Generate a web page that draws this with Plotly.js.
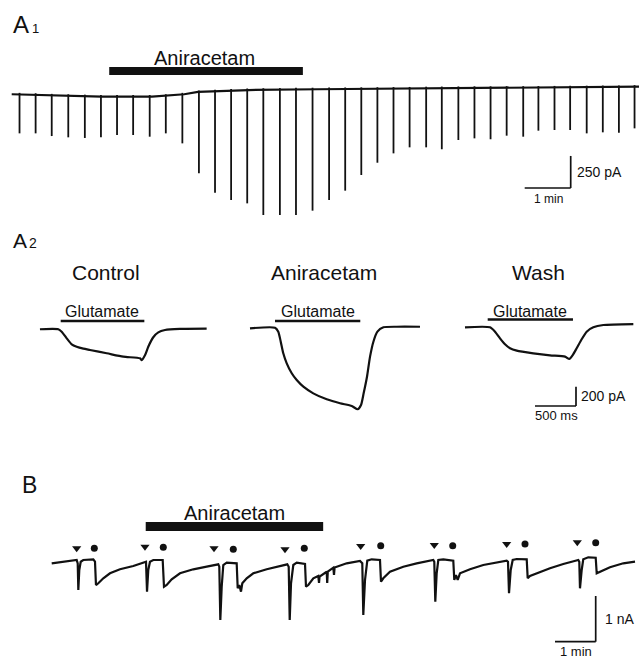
<!DOCTYPE html>
<html><head><meta charset="utf-8">
<script src="https://cdn.plot.ly/plotly-3.0.1.min.js"></script>
<style>html,body{margin:0;padding:0;background:#fff}</style>
</head><body><div id="chart" style="width:639px;height:660px"></div>
<script>
// ---------- DATA ----------
// A1: holding current (pA) vs time (min)
const a1BaseT = [-0.05, 0.4, 1.9, 3.0, 3.3, 3.7, 4.0, 4.4, 5.1, 6.6, 7.7, 9.5, 11.0, 13.6];
const a1BaseI = [-2, -5, -20, -20, -13, -2, 16, 23, 31, 37, 41, 47, 49, 57];
const a1SpikeT = [0.12,0.47,0.82,1.18,1.54,1.89,2.24,2.59,2.95,3.30,3.66,4.02,4.37,4.72,5.07,5.42,5.78,6.13,6.49,6.85,7.20,7.55,7.90,8.25,8.60,8.96,9.30,9.66,10.01,10.36,10.71,11.07,11.40,11.75,12.09,12.45,12.80,13.15,13.49];
const a1SpikeTop = [9,6,1,-2,-5,-8,-8,-8,-8,-2,9,27,34,39,43,45,46,48,49,50,51,52,53,54,55,57,58,59,60,60,61,61,62,63,64,65,66,67,69];
const a1SpikePeak = [-307,-307,-328,-338,-343,-338,-320,-320,-333,-307,-385,-619,-770,-827,-853,-944,-944,-944,-910,-827,-754,-632,-536,-463,-416,-416,-431,-359,-346,-353,-325,-333,-286,-281,-281,-307,-299,-302,-268];
const a1Drug = [2.07, 6.28];           // aniracetam application (min)
const a1Scale = [1, 250];              // 1 min, 250 pA

// A2: glutamate-evoked currents (pA) vs time (ms), t=0 at glutamate onset
const a2Titles = ['Control', 'Aniracetam', 'Wash'];
const ctrlT = [-253,-29,12,73,134,195,276,357,561,763,967,988,1029,1068,1129,1190,1272,1455,1780];
const ctrlI = [-13,-13,-38,-107,-169,-194,-214,-228,-262,-297,-314,-332,-280,-194,-96,-45,-21,-10,-7];
const aniT = [-305,0,40,70,101,143,204,265,346,467,631,793,936,1008,1049,1081,1122,1159,1200,1249,1322,1485,1768];
const aniI = [-3,3,-38,-142,-262,-366,-469,-539,-608,-677,-739,-780,-808,-842,-798,-677,-505,-297,-142,-38,7,13,13];
const washT = [-277,28,89,150,211,272,354,556,760,943,995,1037,1085,1146,1207,1288,1410,1776];
const washI = [7,7,-38,-107,-169,-210,-235,-262,-283,-297,-321,-280,-210,-117,-38,7,31,41];
const gluOn = [0, 0, 0];
const gluOff = [1020, 1040, 1040];
const a2Scale = [500, 200];            // 500 ms, 200 pA

// B: current (pA) vs time (min)
const bT = [0.000,0.204,0.531,0.614,0.639,0.654,0.678,0.713,0.776,1.022,1.064,1.088,1.145,1.268,1.432,1.678,2.005,2.292,
 2.317,2.342,2.373,2.415,2.496,2.727,2.759,2.826,2.948,3.152,3.479,3.808,4.093,
 4.118,4.143,4.177,4.216,4.300,4.545,4.570,4.609,4.651,4.683,4.791,4.953,5.283,5.609,5.789,
 5.823,5.848,5.880,5.936,6.020,6.224,6.248,6.305,6.428,6.550,6.568,6.582,6.757,6.769,6.784,6.919,6.936,6.951,7.248,7.575,
 7.631,7.656,7.698,7.754,7.862,8.066,8.091,8.147,8.312,8.639,8.968,9.376,
 9.400,9.425,9.459,9.499,9.622,9.867,9.892,9.934,9.975,10.032,10.278,10.604,11.179,
 11.211,11.236,11.278,11.327,11.425,11.671,11.695,11.752,11.916,12.243,12.570,12.939,
 12.963,12.980,13.022,13.061,13.184,13.366,13.391,13.472,13.717,14.044,14.332];
const bI = [37,59,94,109,37,-547,-109,72,109,125,72,-438,-400,-291,-182,-94,-22,50,
 72,-584,-109,72,109,109,-475,-438,-313,-182,-94,-37,15,
 -37,-1203,-475,0,50,37,-510,-438,-584,-400,-291,-182,-94,-22,15,
 -37,-1203,-400,0,50,22,-475,-438,-291,-241,-394,-252,-147,-394,-142,-59,-219,-55,37,88,
 37,-1094,-328,94,125,109,-365,-291,-147,-37,37,109,
 72,-803,-182,109,125,94,-328,-219,-328,-182,-94,0,94,
 72,-619,-109,109,131,125,-291,-241,-182,-72,22,109,
 72,-510,-109,125,168,160,-182,-147,-50,37,72];
const triT = [0.614,2.292,3.988,5.732,7.592,9.400,11.179,12.914];
const triI = [365,400,365,344,416,438,459,497];
const dotT = [1.047,2.742,4.462,6.206,8.084,9.853,11.629,13.366];
const dotI = [365,387,344,365,422,422,459,488];
const bDrug = [2.31, 6.67];
const bScale = [1, 1000];              // 1 min, 1 nA

// ---------- LAYOUT GEOMETRY (pixels) ----------
const W = 639, H = 660;
const FONT = 'Liberation Sans, Arial, Helvetica, sans-serif';
const INK = '#111';
const gA1 = {x0:14, sx:1/46, y0:94, sy:7.8, top:0, bot:230};
const gA2 = {x0:[60.7, 275, 487.7], sx:12.195, y0:328, sy:10.36, top:230, bot:430};
const gB  = {x0:51.7, sx:1/40.7, y0:565, sy:21.88, top:430, bot:660};
const xr = (x0, s) => [(0 - x0) * s, (W - x0) * s];
const yr = (g) => [(g.y0 - g.bot) * g.sy, (g.y0 - g.top) * g.sy];
const dom = (g) => [1 - g.bot / H, 1 - g.top / H];
const px = x => x / W, py = y => 1 - y / H;

// ---------- TRACES ----------
const spX = [], spY = [];
for (let k = 0; k < a1SpikeT.length; k++) {
  spX.push(a1SpikeT[k], a1SpikeT[k], null);
  spY.push(a1SpikeTop[k], a1SpikePeak[k], null);
}
const ln = (w) => ({color: INK, width: w});
const sp = (w) => ({color: INK, width: w, shape: 'spline', smoothing: 0.6});
const traces = [
  {x: a1BaseT, y: a1BaseI, xaxis: 'x', yaxis: 'y', mode: 'lines', line: ln(2.2)},
  {x: spX, y: spY, xaxis: 'x', yaxis: 'y', mode: 'lines', line: ln(1.8), connectgaps: false},
  {x: ctrlT, y: ctrlI, xaxis: 'x2', yaxis: 'y2', mode: 'lines', line: sp(2.2)},
  {x: aniT, y: aniI, xaxis: 'x3', yaxis: 'y2', mode: 'lines', line: sp(2.2)},
  {x: washT, y: washI, xaxis: 'x4', yaxis: 'y2', mode: 'lines', line: sp(2.2)},
  {x: bT, y: bI, xaxis: 'x5', yaxis: 'y3', mode: 'lines', line: ln(2.2)},
  {x: triT, y: triI, xaxis: 'x5', yaxis: 'y3', mode: 'markers', marker: {symbol: 'triangle-down', size: 8, color: INK}},
  {x: dotT, y: dotI, xaxis: 'x5', yaxis: 'y3', mode: 'markers', marker: {symbol: 'circle', size: 7, color: INK}}
];

// ---------- SHAPES ----------
const shapes = [];
const hline = (xref, x0, x1, yref, y, w) => shapes.push({type: 'line', xref, yref, x0, x1, y0: y, y1: y, line: {color: INK, width: w}});
const vline = (xref, x, yref, y0, y1, w) => shapes.push({type: 'line', xref, yref, x0: x, x1: x, y0, y1, line: {color: INK, width: w}});
// drug bars
hline('x', a1Drug[0], a1Drug[1], 'paper', py(71), 8);
hline('x5', bDrug[0], bDrug[1], 'paper', py(526.5), 9);
// glutamate bars
const gluY = [321, 321, 319.5];
['x2', 'x3', 'x4'].forEach((xa, k) => hline(xa, gluOn[k], gluOff[k], 'paper', py(gluY[k]), 2.6));
// scale bars: corner position in px, lengths from data
function corner(g, x0, cornerX, cornerY) {
  return {cx: (cornerX - x0) * g.sx, cy: (g.y0 - cornerY) * g.sy};
}
{ const c = corner(gA1, gA1.x0, 570.7, 188);
  hline('x', c.cx - a1Scale[0], c.cx, 'y', c.cy, 1.7); vline('x', c.cx, 'y', c.cy, c.cy + a1Scale[1], 1.7); }
{ const c = corner(gA2, gA2.x0[2], 576, 406);
  hline('x4', c.cx - a2Scale[0], c.cx, 'y2', c.cy, 1.7); vline('x4', c.cx, 'y2', c.cy, c.cy + a2Scale[1], 1.7); }
{ const c = corner(gB, gB.x0, 595.7, 641.7);
  hline('x5', c.cx - bScale[0], c.cx, 'y3', c.cy, 1.7); vline('x5', c.cx, 'y3', c.cy, c.cy + bScale[1], 1.7); }

// ---------- ANNOTATIONS ----------
const ann = [];
const txt = (t, x, y, size, xanchor) => ann.push({text: t, x: px(x), y: py(y), xref: 'paper', yref: 'paper',
  xanchor: xanchor || 'center', yanchor: 'middle', showarrow: false, font: {family: FONT, size, color: INK}});
txt('A', 10.5, 24.5, 24, 'left');
txt('1', 29.5, 28, 13, 'left');
txt('A', 11, 240.5, 21, 'left');
txt('2', 26.5, 243, 14, 'left');
txt('B', 20, 485, 23, 'left');
txt('Aniracetam', 204, 57.5, 20);
txt('Aniracetam', 234, 513, 20);
[106, 324, 538].forEach((x, k) => txt(a2Titles[k], x, 273, 21));
[102.3, 317.5, 530.2].forEach(x => txt('Glutamate', x, 311.5, 16));
txt('250 pA', 575, 172, 14, 'left');
txt('1 min', 548, 199, 12);
txt('200 pA', 579, 396, 14, 'left');
txt('500 ms', 556.7, 415, 13);
txt('1 nA', 603, 619, 14, 'left');
txt('1 min', 575.7, 651.5, 13);

// ---------- AXES ----------
const hid = {visible: false, fixedrange: true, showgrid: false, zeroline: false};
const layout = {
  width: W, height: H, margin: {l: 0, r: 0, t: 0, b: 0},
  paper_bgcolor: '#fff', plot_bgcolor: 'rgba(0,0,0,0)', showlegend: false,
  xaxis: Object.assign({}, hid, {domain: [0, 1], range: xr(gA1.x0, gA1.sx), anchor: 'y'}),
  yaxis: Object.assign({}, hid, {domain: dom(gA1), range: yr(gA1), anchor: 'x'}),
  xaxis2: Object.assign({}, hid, {domain: [0, 1], range: xr(gA2.x0[0], gA2.sx), anchor: 'y2'}),
  xaxis3: Object.assign({}, hid, {range: xr(gA2.x0[1], gA2.sx), anchor: 'y2', overlaying: 'x2'}),
  xaxis4: Object.assign({}, hid, {range: xr(gA2.x0[2], gA2.sx), anchor: 'y2', overlaying: 'x2'}),
  yaxis2: Object.assign({}, hid, {domain: dom(gA2), range: yr(gA2), anchor: 'x2'}),
  xaxis5: Object.assign({}, hid, {domain: [0, 1], range: xr(gB.x0, gB.sx), anchor: 'y3'}),
  yaxis3: Object.assign({}, hid, {domain: dom(gB), range: yr(gB), anchor: 'x5'}),
  shapes: shapes, annotations: ann
};
Plotly.newPlot('chart', traces, layout, {staticPlot: true, displayModeBar: false});
</script></body></html>
